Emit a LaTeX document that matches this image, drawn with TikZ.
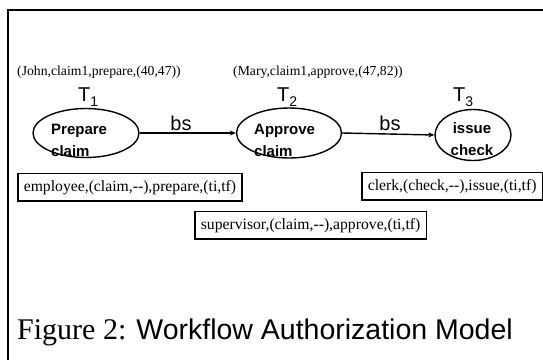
\documentclass[tikz,border=0pt]{standalone}
\usepackage{fontspec}
\setmainfont{Liberation Serif}
\setsansfont{Liberation Sans}
\usetikzlibrary{shapes.geometric,arrows.meta}
\begin{document}
\begin{tikzpicture}[x=1pt,y=-1pt,
  frameline/.style={line width=1.6pt},
  task/.style={draw,ellipse,line width=1.4pt,inner sep=0pt},
  tasktext/.style={anchor=base west,inner sep=0pt,font=\sffamily\bfseries\fontsize{15}{15}\selectfont},
  tlabel/.style={anchor=base west,inner sep=0pt,font=\sffamily\fontsize{20}{20}\selectfont},
  flow/.style={line width=1.4pt,-{Stealth[length=6pt,width=5pt]}},
  flowlabel/.style={anchor=base,inner sep=0pt,font=\sffamily\fontsize{20}{20}\selectfont},
  instance/.style={anchor=base west,inner sep=0pt,font=\rmfamily\fontsize{13.7}{13.7}\selectfont},
  authbox/.style={draw,line width=1.6pt,anchor=base west,inner xsep=6pt,inner ysep=6.5pt,font=\rmfamily\fontsize{15.7}{15.7}\selectfont}
]
\useasboundingbox (0,0) rectangle (543,360);

% open frame: top and left edges only
\coordinate (fl) at (8,10);
\coordinate (fr) at (543,10);
\coordinate (fb) at (8,360);
\draw[frameline] (fr) -- (fl) -- (fb);

% instance tuples
\node[instance] (inst1) at (17,75) {(John,claim1,prepare,(40,47))};
\node[instance] (inst2) at (233,75) {(Mary,claim1,approve,(47,82))};

% task labels
\node[tlabel] (t1) at (78,101) {T\raisebox{-5pt}{\fontsize{14}{14}\selectfont 1}};
\node[tlabel] (t2) at (277,101) {T\raisebox{-5pt}{\fontsize{14}{14}\selectfont 2}};
\node[tlabel] (t3) at (453,101) {T\raisebox{-5pt}{\fontsize{14}{14}\selectfont 3}};

% tasks
\node[task,minimum width=106pt,minimum height=49pt] (e1) at (86,133) {};
\node[task,minimum width=105pt,minimum height=50pt] (e2) at (289,133) {};
\node[task,minimum width=76pt,minimum height=51pt] (e3) at (473,135) {};

\node[tasktext] (e1a) at (51,134) {Prepare};
\node[tasktext] (e1b) at (51,156) {claim};
\node[tasktext] (e2a) at (254,134) {Approve};
\node[tasktext] (e2b) at (254,156) {claim};
\node[tasktext,anchor=base] (e3a) at (472,133) {issue};
\node[tasktext,anchor=base] (e3b) at (472,155) {check};

% begin-start dependencies
\draw[flow] (e1.east) -- (e2.west);
\draw[flow] (e2.east) -- (e3.west);
\node[flowlabel] (bs1) at (181,130) {bs};
\node[flowlabel] (bs2) at (390,130) {bs};

% authorization specifications
\node[authbox] (a1) at (17,191) {employee,(claim,{-}{-}),prepare,(ti,tf)};
\node[authbox] (a2) at (194,229) {supervisor,(claim,{-}{-}),approve,(ti,tf)};
\node[authbox] (a3) at (361,190) {clerk,(check,{-}{-}),issue,(ti,tf)};

% caption
\node[anchor=base west,inner sep=0pt] (cap) at (17,339)
  {\fontsize{30}{30}\selectfont Figure 2: \sffamily\fontsize{28.5}{28.5}\selectfont Workflow Authorization Model};
\end{tikzpicture}
\end{document}
